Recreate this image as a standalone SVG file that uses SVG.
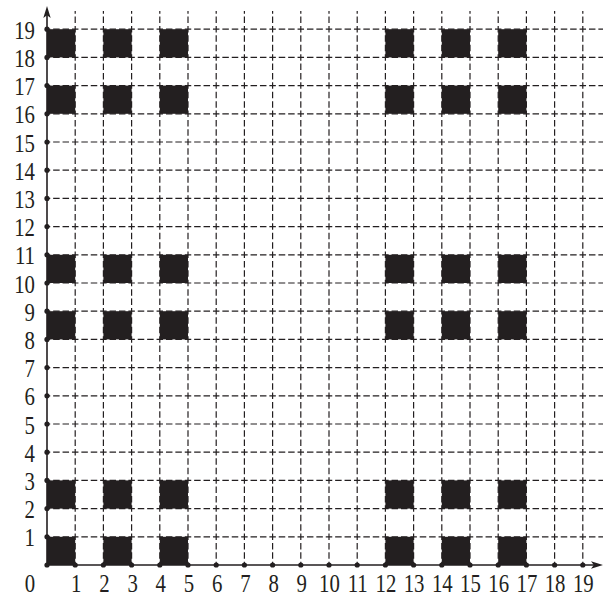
<svg xmlns="http://www.w3.org/2000/svg" width="606" height="596" viewBox="0 0 606 596">
<style>
.grid{stroke:#231f20;stroke-width:1.2;stroke-dasharray:6.5 2.9;stroke-dashoffset:3.25;fill:none}
.axis{stroke:#231f20;stroke-width:1.6;fill:none}
.sq{fill:#231f20}
.dot{fill:#231f20}
.lbl{font-family:"Liberation Serif","Times New Roman",serif;font-size:26px;fill:#231f20}
.bl{text-anchor:middle}
.ll{text-anchor:end}
</style>
<defs>
<rect id="s" width="28.2" height="28.2" class="sq"/>
<circle id="d" r="2.6" class="dot"/>
</defs>
<rect width="606" height="596" fill="#fff"/>
<g id="grid">
<path class="grid" d="M75.2,565V11M103.4,565V11M131.6,565V11M159.8,565V11M188,565V11M216.2,565V11M244.4,565V11M272.6,565V11M300.8,565V11M329,565V11M357.2,565V11M385.4,565V11M413.6,565V11M441.8,565V11M470,565V11M498.2,565V11M526.4,565V11M554.6,565V11M582.8,565V11"/>
<path class="grid" d="M47,536.8H603M47,508.6H603M47,480.4H603M47,452.2H603M47,424H603M47,395.8H603M47,367.6H603M47,339.4H603M47,311.2H603M47,283H603M47,254.8H603M47,226.6H603M47,198.4H603M47,170.2H603M47,142H603M47,113.8H603M47,85.6H603M47,57.4H603M47,29.2H603"/>
</g>
<g id="squares">
<use href="#s" x="47" y="536.8"/><use href="#s" x="103.4" y="536.8"/><use href="#s" x="159.8" y="536.8"/><use href="#s" x="385.4" y="536.8"/><use href="#s" x="441.8" y="536.8"/><use href="#s" x="498.2" y="536.8"/>
<use href="#s" x="47" y="480.4"/><use href="#s" x="103.4" y="480.4"/><use href="#s" x="159.8" y="480.4"/><use href="#s" x="385.4" y="480.4"/><use href="#s" x="441.8" y="480.4"/><use href="#s" x="498.2" y="480.4"/>
<use href="#s" x="47" y="311.2"/><use href="#s" x="103.4" y="311.2"/><use href="#s" x="159.8" y="311.2"/><use href="#s" x="385.4" y="311.2"/><use href="#s" x="441.8" y="311.2"/><use href="#s" x="498.2" y="311.2"/>
<use href="#s" x="47" y="254.8"/><use href="#s" x="103.4" y="254.8"/><use href="#s" x="159.8" y="254.8"/><use href="#s" x="385.4" y="254.8"/><use href="#s" x="441.8" y="254.8"/><use href="#s" x="498.2" y="254.8"/>
<use href="#s" x="47" y="85.6"/><use href="#s" x="103.4" y="85.6"/><use href="#s" x="159.8" y="85.6"/><use href="#s" x="385.4" y="85.6"/><use href="#s" x="441.8" y="85.6"/><use href="#s" x="498.2" y="85.6"/>
<use href="#s" x="47" y="29.2"/><use href="#s" x="103.4" y="29.2"/><use href="#s" x="159.8" y="29.2"/><use href="#s" x="385.4" y="29.2"/><use href="#s" x="441.8" y="29.2"/><use href="#s" x="498.2" y="29.2"/>
</g>
<g id="axes">
<path class="axis" d="M47,565V14M47,565H596"/>
<path fill="#231f20" d="M47,6L43.3,18L47,15.2L50.7,18Z"/>
<path fill="#231f20" d="M603,565L591,561.3L593.8,565L591,568.7Z"/>
</g>
<g id="dots">
<use href="#d" x="47" y="565"/><use href="#d" x="75.2" y="565"/><use href="#d" x="103.4" y="565"/><use href="#d" x="131.6" y="565"/><use href="#d" x="159.8" y="565"/><use href="#d" x="188" y="565"/><use href="#d" x="216.2" y="565"/><use href="#d" x="244.4" y="565"/><use href="#d" x="272.6" y="565"/><use href="#d" x="300.8" y="565"/><use href="#d" x="329" y="565"/><use href="#d" x="357.2" y="565"/><use href="#d" x="385.4" y="565"/><use href="#d" x="413.6" y="565"/><use href="#d" x="441.8" y="565"/><use href="#d" x="470" y="565"/><use href="#d" x="498.2" y="565"/><use href="#d" x="526.4" y="565"/><use href="#d" x="554.6" y="565"/><use href="#d" x="582.8" y="565"/>
<use href="#d" x="47" y="536.8"/><use href="#d" x="47" y="508.6"/><use href="#d" x="47" y="480.4"/><use href="#d" x="47" y="452.2"/><use href="#d" x="47" y="424"/><use href="#d" x="47" y="395.8"/><use href="#d" x="47" y="367.6"/><use href="#d" x="47" y="339.4"/><use href="#d" x="47" y="311.2"/><use href="#d" x="47" y="283"/><use href="#d" x="47" y="254.8"/><use href="#d" x="47" y="226.6"/><use href="#d" x="47" y="198.4"/><use href="#d" x="47" y="170.2"/><use href="#d" x="47" y="142"/><use href="#d" x="47" y="113.8"/><use href="#d" x="47" y="85.6"/><use href="#d" x="47" y="57.4"/><use href="#d" x="47" y="29.2"/>
</g>
<g id="xlabels" class="lbl bl">
<text transform="translate(30,592) scale(0.8,1)">0</text>
<text transform="translate(76.2,592) scale(0.8,1)">1</text>
<text transform="translate(104.4,592) scale(0.8,1)">2</text>
<text transform="translate(132.6,592) scale(0.8,1)">3</text>
<text transform="translate(160.8,592) scale(0.8,1)">4</text>
<text transform="translate(189,592) scale(0.8,1)">5</text>
<text transform="translate(217.2,592) scale(0.8,1)">6</text>
<text transform="translate(245.4,592) scale(0.8,1)">7</text>
<text transform="translate(273.6,592) scale(0.8,1)">8</text>
<text transform="translate(301.8,592) scale(0.8,1)">9</text>
<text transform="translate(329.5,592) scale(0.8,1)">10</text>
<text transform="translate(357.7,592) scale(0.8,1)">11</text>
<text transform="translate(385.9,592) scale(0.8,1)">12</text>
<text transform="translate(414.1,592) scale(0.8,1)">13</text>
<text transform="translate(442.3,592) scale(0.8,1)">14</text>
<text transform="translate(470.5,592) scale(0.8,1)">15</text>
<text transform="translate(498.7,592) scale(0.8,1)">16</text>
<text transform="translate(526.9,592) scale(0.8,1)">17</text>
<text transform="translate(555.1,592) scale(0.8,1)">18</text>
<text transform="translate(583.3,592) scale(0.8,1)">19</text>
</g>
<g id="ylabels" class="lbl ll">
<text transform="translate(35,546.3) scale(0.8,1)">1</text>
<text transform="translate(35,518.1) scale(0.8,1)">2</text>
<text transform="translate(35,489.9) scale(0.8,1)">3</text>
<text transform="translate(35,461.7) scale(0.8,1)">4</text>
<text transform="translate(35,433.5) scale(0.8,1)">5</text>
<text transform="translate(35,405.3) scale(0.8,1)">6</text>
<text transform="translate(35,377.1) scale(0.8,1)">7</text>
<text transform="translate(35,348.9) scale(0.8,1)">8</text>
<text transform="translate(35,320.7) scale(0.8,1)">9</text>
<text transform="translate(35,292.5) scale(0.8,1)">10</text>
<text transform="translate(35,264.3) scale(0.8,1)">11</text>
<text transform="translate(35,236.1) scale(0.8,1)">12</text>
<text transform="translate(35,207.9) scale(0.8,1)">13</text>
<text transform="translate(35,179.7) scale(0.8,1)">14</text>
<text transform="translate(35,151.5) scale(0.8,1)">15</text>
<text transform="translate(35,123.3) scale(0.8,1)">16</text>
<text transform="translate(35,95.1) scale(0.8,1)">17</text>
<text transform="translate(35,66.9) scale(0.8,1)">18</text>
<text transform="translate(35,38.7) scale(0.8,1)">19</text>
</g>
</svg>
